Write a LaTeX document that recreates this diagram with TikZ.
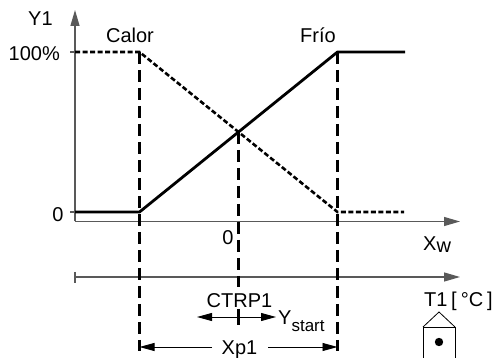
\documentclass[tikz,border=0pt]{standalone}
\usepackage{fontspec}
\setmainfont{Liberation Sans}
\usetikzlibrary{arrows.meta}
\begin{document}
\begin{tikzpicture}[x=1pt,y=-1pt,
  lbl/.style={inner sep=0pt, font=\fontsize{20}{23}\selectfont},
  axis/.style={line width=1.3pt, draw=black!65},
  axtip/.style={-{Triangle[length=16pt,width=9pt]}},
  curve/.style={line width=2.8pt, line join=miter},
  dotline/.style={line width=2.6pt, dash pattern=on 5pt off 2.5pt},
  guide/.style={line width=2.2pt, dash pattern=on 12pt off 6pt},
  dimtip/.style={-{Triangle[length=15pt,width=8pt]}},
  dimline/.style={line width=0.9pt},
  thinline/.style={line width=0.8pt}]
\useasboundingbox (0,0) rectangle (496,358);

% coordinates
\coordinate (O) at (75,221.5);
\coordinate (Ytop) at (75,10);
\coordinate (Xend) at (460,221.5);
\coordinate (t100) at (70,52);
\coordinate (y100) at (75,52);
\coordinate (t0) at (70,212);
\coordinate (y0) at (75,212);
\coordinate (A) at (139.5,212);
\coordinate (B) at (337.5,52);
\coordinate (Bend) at (405,52);
\coordinate (C) at (139.5,52);
\coordinate (D) at (337.5,212);
\coordinate (Dend) at (404,212);
\coordinate (M) at (238.5,132);
\coordinate (S0) at (75,277);
\coordinate (Send) at (460,277);
\coordinate (St1) at (75,272);
\coordinate (St2) at (75,283);
\coordinate (Cbot) at (139.5,351);
\coordinate (Bbot) at (337.5,351);
\coordinate (Mgap) at (238.5,287);
\coordinate (Mt1) at (238.5,309);
\coordinate (Mt2) at (238.5,325);
\coordinate (ctr) at (238.5,317);
\coordinate (ctrL) at (197,317);
\coordinate (ctrR) at (276,317);
\coordinate (xpL) at (212,347);
\coordinate (xpR) at (268,347);
\coordinate (xpLtip) at (139.5,347);
\coordinate (xpRtip) at (337.5,347);

% axes
\draw[axis, axtip] (O) -- (Ytop);
\draw[axis, axtip] (O) -- (Xend);
\draw[axis] (t100) -- (y100);
\draw[axis] (t0) -- (y0);
\draw[axis, axtip] (S0) -- (Send);
\draw[axis] (St1) -- (St2);

% characteristic curves
\draw[curve] (y0) -- (A) -- (B) -- (Bend);
\draw[dotline] (y100) -- (C) -- (D) -- (Dend);

% guides
\draw[guide] (C) -- (Cbot);
\draw[guide] (B) -- (Bbot);
\draw[guide] (M) -- (Mgap);
\draw[line width=2.2pt] (Mt1) -- (Mt2);

% CTRP1 arrows
\draw[dimline, dimtip] (ctr) -- (ctrL);
\draw[dimline, dimtip] (ctr) -- (ctrR);

% Xp1 arrows
\draw[dimline, dimtip] (xpL) -- (xpLtip);
\draw[dimline, dimtip] (xpR) -- (xpRtip);

% labels
\node[lbl, anchor=base west] (y1) at (28,26) {Y1};
\node[lbl, anchor=base east] (p100) at (60,61) {100\%};
\node[lbl, anchor=base] (calor) at (130,43) {Calor};
\node[lbl, anchor=base] (frio) at (318,43) {Frío};
\node[lbl, anchor=base] (zl) at (58,222) {0};
\node[lbl, anchor=base] (zb) at (228,245) {0};
\node[lbl, anchor=base west] (xw) at (423,251) {X\raisebox{-1.5pt}{w}};
\node[lbl, anchor=base] (ctrp) at (239.5,308) {CTRP1};
\node[lbl, anchor=base west] (ys) at (278,325) {Y\raisebox{-7pt}{\fontsize{17}{20}\selectfont start}};
\node[lbl, anchor=base] (xp1) at (239.5,354.5) {Xp1};
\node[lbl, anchor=base west] (t1) at (424,307) {T1};
\node[lbl, anchor=base west] (degc) at (451,307) {[\hspace{4pt}°C\hspace{4pt}]};

% sensor symbol
\coordinate (hL) at (423,327);
\coordinate (hR) at (455,327);
\coordinate (hTop) at (439,312);
\draw[thinline] (hL) -- (hTop) -- (hR);
\draw[thinline] (hL) rectangle (455,360);
\fill (439,342) circle (4.2);
\end{tikzpicture}
\end{document}
